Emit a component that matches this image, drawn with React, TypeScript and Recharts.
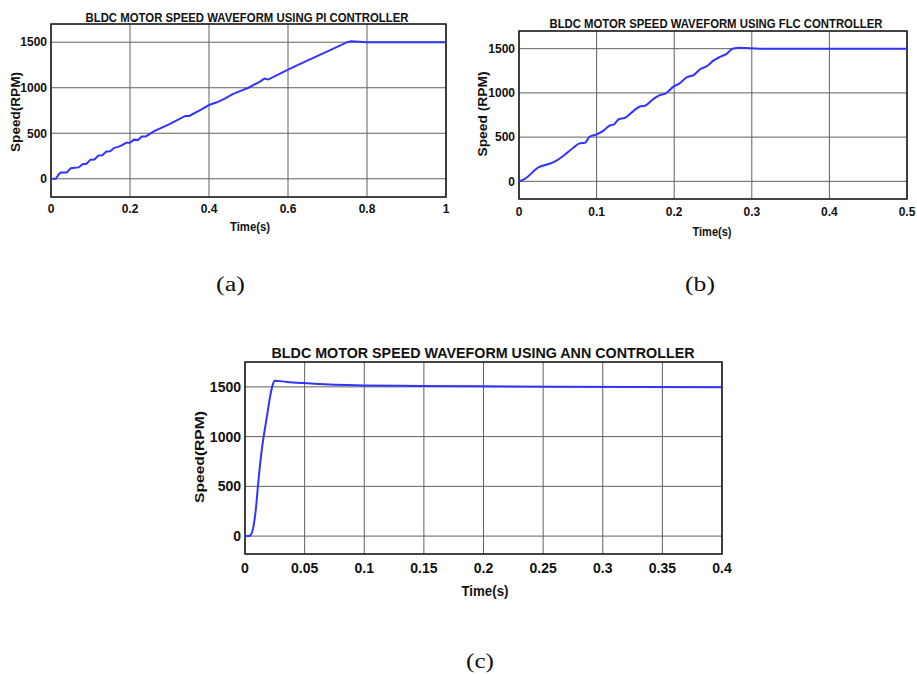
import { CartesianGrid, Line, LineChart, ReferenceArea, XAxis, YAxis } from 'recharts'

// PI controller: staircase ramp up to 1500 rpm at ~0.75 s
const piTime = [
  0, 0.012, 0.02, 0.025, 0.04, 0.05, 0.06, 0.07, 0.08, 0.09, 0.1, 0.11, 0.12, 0.13, 0.14, 0.15, 0.16, 0.17,
  0.18, 0.19, 0.2, 0.21, 0.22, 0.23, 0.24, 0.26, 0.3, 0.34, 0.35, 0.38, 0.4, 0.42, 0.44, 0.46, 0.48, 0.5,
  0.53, 0.54, 0.55, 0.6, 0.65, 0.7, 0.75, 0.76, 0.8, 1.0,
]
const piSpeed = [
  0, 0, 50, 68, 70, 115, 120, 125, 160, 165, 210, 212, 255, 258, 300, 302, 340, 350,
  370, 395, 395, 430, 425, 465, 465, 520, 600, 690, 690, 760, 810, 840, 880, 930, 965, 1000,
  1070, 1100, 1090, 1200, 1300, 1400, 1500, 1510, 1500, 1500,
]

// FLC controller: faster ramp, settles at ~0.275 s
const flcTime = [
  0, 0.007, 0.025, 0.044, 0.057, 0.07, 0.078, 0.085, 0.091, 0.1, 0.108, 0.117, 0.122, 0.129, 0.136, 0.147,
  0.156, 0.162, 0.173, 0.182, 0.188, 0.199, 0.207, 0.216, 0.225, 0.233, 0.242, 0.25, 0.259, 0.268, 0.275,
  0.285, 0.31, 0.5,
]
const flcSpeed = [
  0, 26, 157, 213, 287, 380, 429, 437, 504, 530, 567, 631, 642, 705, 716, 791,
  847, 854, 929, 978, 989, 1071, 1108, 1175, 1201, 1265, 1302, 1362, 1407, 1444, 1500,
  1511, 1500, 1500,
]

// ANN controller: fast rise, small overshoot
const annTime = [
  0, 0.003, 0.005, 0.007, 0.009, 0.011, 0.013, 0.015, 0.017, 0.019, 0.021, 0.0235, 0.025, 0.035, 0.049,
  0.071, 0.099, 0.147, 0.2, 0.259, 0.4,
]
const annSpeed = [
  0, 0, 15, 90, 260, 520, 760, 950, 1100, 1250, 1400, 1530, 1562, 1550, 1538,
  1523, 1515, 1509, 1505, 1500, 1495,
]

const piTicks = [0, 0.2, 0.4, 0.6, 0.8, 1]
const flcTicks = [0, 0.1, 0.2, 0.3, 0.4, 0.5]
const annTicks = [0, 0.05, 0.1, 0.15, 0.2, 0.25, 0.3, 0.35, 0.4]
const speedTicks = [0, 500, 1000, 1500]

const zip = (ts: number[], vs: number[]) => ts.map((t, i) => ({ t, v: vs[i] }))

const sans = '"Liberation Sans", Arial, sans-serif'
const serif = '"Liberation Serif", "Times New Roman", serif'

type PanelProps = {
  left: number
  top: number
  plotW: number
  plotH: number
  data: { t: number; v: number }[]
  xMax: number
  xTicks: number[]
  yDomain: [number, number]
  fontSize: number
  xMargin: number
  curve: 'linear' | 'monotone'
}

function Panel({ left, top, plotW, plotH, data, xMax, xTicks, yDomain, fontSize, xMargin, curve }: PanelProps) {
  const tick = { fill: '#111', fontSize, fontWeight: 700, fontFamily: sans }
  return (
    <div style={{ position: 'absolute', left: left - 60, top: top - 10 }}>
      <LineChart
        width={plotW + 80}
        height={plotH + 40}
        data={data}
        margin={{ top: 10, right: 20, bottom: 0, left: 0 }}
      >
        <CartesianGrid stroke="#606060" strokeWidth={1} />
        <XAxis
          dataKey="t"
          type="number"
          domain={[0, xMax]}
          ticks={xTicks}
          interval={0}
          allowDataOverflow
          height={30}
          tick={tick}
          tickLine={false}
          axisLine={false}
          tickSize={0}
          tickMargin={xMargin}
        />
        <YAxis
          type="number"
          domain={yDomain}
          ticks={speedTicks}
          interval={0}
          allowDataOverflow
          width={60}
          tick={tick}
          tickLine={false}
          axisLine={false}
          tickSize={0}
          tickMargin={4}
        />
        <ReferenceArea x1={0} x2={xMax} y1={yDomain[0]} y2={yDomain[1]} fill="none" stroke="#222" strokeWidth={1.6} />
        <Line
          type={curve}
          dataKey="v"
          stroke="#3333ff"
          strokeWidth={2}
          dot={false}
          isAnimationActive={false}
        />
      </LineChart>
    </div>
  )
}

export default function App() {
  return (
    <div style={{ position: 'absolute', left: 0, top: 0, width: 917, height: 674, background: '#fff', overflow: 'hidden' }}>
      <Panel left={51} top={24} plotW={395} plotH={173} data={zip(piTime, piSpeed)} xMax={1} xTicks={piTicks}
        yDomain={[-200, 1700]} fontSize={12} xMargin={7} curve="linear" />
      <Panel left={519} top={31} plotW={388} plotH={168} data={zip(flcTime, flcSpeed)} xMax={0.5} xTicks={flcTicks}
        yDomain={[-200, 1700]} fontSize={12} xMargin={8} curve="monotone" />
      <Panel left={245} top={362} plotW={477} plotH={192} data={zip(annTime, annSpeed)} xMax={0.4} xTicks={annTicks}
        yDomain={[-180, 1750]} fontSize={14} xMargin={9} curve="monotone" />

      <svg width={917} height={674} style={{ position: 'absolute', left: 0, top: 0, pointerEvents: 'none' }}>
        <g fontFamily={sans} fontWeight={700} fill="#111" textAnchor="middle">
          <text x={247} y={22} fontSize={12.5} textLength={323} lengthAdjust="spacingAndGlyphs">
            BLDC MOTOR SPEED WAVEFORM USING PI CONTROLLER
          </text>
          <text x={716} y={28} fontSize={12.5} textLength={333} lengthAdjust="spacingAndGlyphs">
            BLDC  MOTOR SPEED WAVEFORM USING FLC CONTROLLER
          </text>
          <text x={483} y={358} fontSize={15.5} textLength={423} lengthAdjust="spacingAndGlyphs">
            BLDC  MOTOR SPEED WAVEFORM USING ANN CONTROLLER
          </text>
          <text x={250} y={231} fontSize={12} textLength={40} lengthAdjust="spacingAndGlyphs">Time(s)</text>
          <text x={712} y={236} fontSize={12} textLength={39} lengthAdjust="spacingAndGlyphs">Time(s)</text>
          <text x={485} y={596} fontSize={14} textLength={47} lengthAdjust="spacingAndGlyphs">Time(s)</text>
          <text transform="translate(20,112) rotate(-90)" fontSize={12} textLength={80} lengthAdjust="spacingAndGlyphs">
            Speed(RPM)
          </text>
          <text transform="translate(487,114) rotate(-90)" fontSize={12} textLength={85} lengthAdjust="spacingAndGlyphs">
            Speed (RPM)
          </text>
          <text transform="translate(204,457) rotate(-90)" fontSize={13} textLength={92} lengthAdjust="spacingAndGlyphs">
            Speed(RPM)
          </text>
        </g>
        <g fontFamily={serif} fill="#111" textAnchor="middle" fontSize={20}>
          <text x={230.5} y={291} textLength={29} lengthAdjust="spacingAndGlyphs">(a)</text>
          <text x={700} y={291} textLength={30} lengthAdjust="spacingAndGlyphs">(b)</text>
          <text x={480} y={668} textLength={28} lengthAdjust="spacingAndGlyphs">(c)</text>
        </g>
      </svg>
    </div>
  )
}
